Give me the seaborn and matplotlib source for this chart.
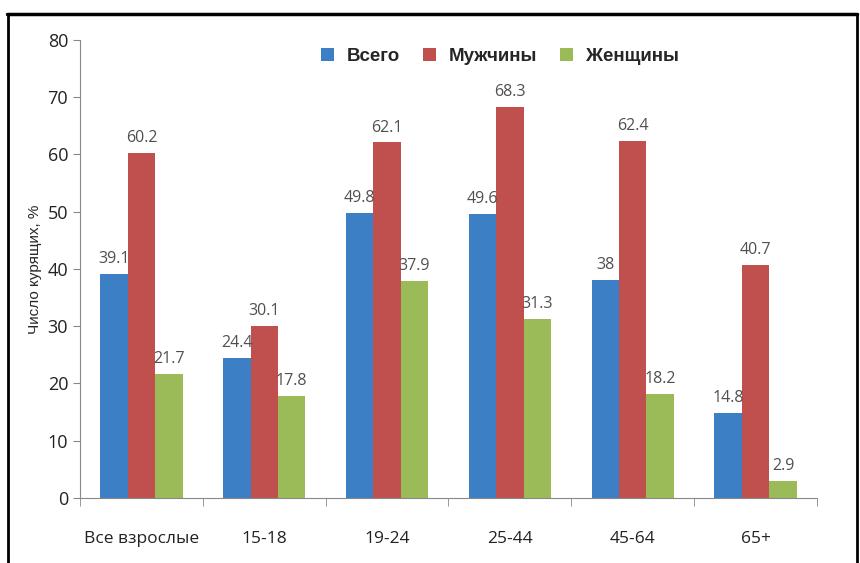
import pandas as pd
import matplotlib.pyplot as plt
import seaborn as sns
from matplotlib.lines import Line2D
from matplotlib.ticker import FixedLocator

groups = ["Все взрослые", "15-18", "19-24", "25-44", "45-64", "65+"]
series = ["Всего", "Мужчины", "Женщины"]
total = [39.1, 24.4, 49.8, 49.6, 38, 14.8]
men = [60.2, 30.1, 62.1, 68.3, 62.4, 40.7]
women = [21.7, 17.8, 37.9, 31.3, 18.2, 2.9]

rows = []
for name, vals in zip(series, [total, men, women]):
    for g, v in zip(groups, vals):
        rows.append({"group": g, "series": name, "value": v})
df = pd.DataFrame(rows)

sns.set_style("white")
plt.rcParams["font.family"] = ["Open Sans", "DejaVu Sans"]

fig = plt.figure(figsize=(8.6, 5.63), dpi=100)
ax = fig.add_axes([0.093, 0.1155, 0.857, 0.8135])

palette = ["#3C7FC4", "#C0504D", "#9BBB59"]
sns.barplot(data=df, x="group", y="value", hue="series", order=groups,
            hue_order=series, palette=palette, width=0.67, gap=0,
            saturation=1, linewidth=0, ax=ax)

for cont, vals in zip(ax.containers, [total, men, women]):
    ax.bar_label(cont, labels=[f"{v:g}" for v in vals], padding=5,
                 fontsize=11.5, color="#505050")

ax.set_ylim(0, 80)
ax.set_xlim(-0.5, 5.5)
ax.set_yticks(range(0, 81, 10))
ax.set_xlabel("")
ax.set_ylabel("Число курящих, %", fontsize=11, family="Liberation Sans")

ax.xaxis.set_minor_locator(FixedLocator([i - 0.5 for i in range(7)]))
ax.tick_params(axis="x", which="major", length=0, pad=24, labelsize=12.5,
               labelcolor="#222222")
ax.tick_params(axis="x", which="minor", length=6, color="#888888",
               direction="out", bottom=True)
ax.tick_params(axis="y", length=5, color="#888888", direction="out", left=True,
               labelsize=13, labelcolor="#222222")
for s in ["top", "right"]:
    ax.spines[s].set_visible(False)
for s in ["left", "bottom"]:
    ax.spines[s].set_color("#888888")

leg = ax.legend(loc="upper center", bbox_to_anchor=(0.57, 1.02), ncol=3,
                frameon=False, handlelength=0.7, handleheight=0.7,
                columnspacing=1.2, handletextpad=0.7,
                prop={"family": "Liberation Sans", "weight": "bold", "size": 13.5})

# frame lines around the picture
fig.add_artist(Line2D([0.008, 0.997], [0.975, 0.975], color="black", lw=2.5,
                      transform=fig.transFigure))
fig.add_artist(Line2D([0.009, 0.009], [0.0, 0.975], color="black", lw=2,
                      transform=fig.transFigure))
fig.add_artist(Line2D([0.997, 0.997], [0.0, 0.975], color="black", lw=2,
                      transform=fig.transFigure))

fig.savefig("out.png", dpi=100)
